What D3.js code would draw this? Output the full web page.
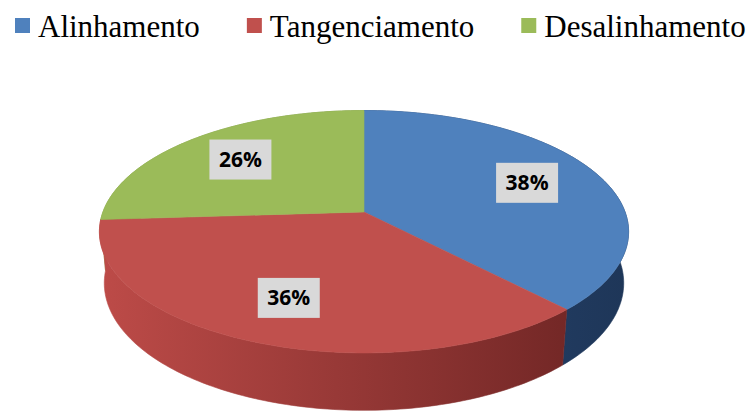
<!DOCTYPE html>
<html lang="pt">
<head>
  <meta charset="UTF-8">
  <title>Alinhamento / Tangenciamento / Desalinhamento</title>
  <script src="https://d3js.org/d3.v7.min.js"></script>
  <style>
    body { margin: 0; background: #fff; }
    svg { display: block; }
    .legend text { font-family: "Liberation Serif", "Times New Roman", serif; font-size: 31px; fill: #000; }
    .label text { font-family: "Open Sans", sans-serif; font-weight: bold; font-size: 21px; fill: #000; }
  </style>
</head>
<body>
<svg id="chart" width="751" height="412"></svg>

<script>
const categories = ["Alinhamento", "Tangenciamento", "Desalinhamento"];
const values = [38, 36, 26];
const labels = ["38%", "36%", "26%"];

const colorMap = {
  "Alinhamento":    { top: "#4f81bd", wall: ["#31558a", "#1e3658"] },
  "Tangenciamento": { top: "#c0504d", wall: ["#bd4b48", "#6a2322"] },
  "Desalinhamento": { top: "#9bbb59", wall: ["#86a34a", "#6b8638"] }
};

const svg = d3.select("#chart");
const width = +svg.attr("width"), height = +svg.attr("height");

// 3D view of the pie: centre of the disc on screen, tilt and perspective
const cx = 364, cy = 212;
const sinT = 0.452, cosT = Math.sqrt(1 - sinT * sinT);
const dist = 5.485, focal = 1432, thick = 0.222;

function project(a, r, yUp) {
  const X = r * Math.sin(a), Z = -r * Math.cos(a);
  const depth = dist - yUp * sinT - Z * cosT;
  return [cx + focal * X / depth, cy + focal * (Z * sinT - yUp * cosT) / depth];
}

function sample(a0, a1) {
  const n = Math.max(8, Math.ceil((a1 - a0) / 0.02));
  return d3.range(n + 1).map(i => a0 + (a1 - a0) * i / n);
}

const pie = d3.pie().sort(null).value(d => d.value);
const slices = pie(categories.map((c, i) => ({ name: c, value: values[i], label: labels[i] })));

const line = d3.line().curve(d3.curveLinearClosed);

// gradients for the side walls
const defs = svg.append("defs");
slices.forEach((s, i) => {
  const g = defs.append("linearGradient")
    .attr("id", "wall" + i)
    .attr("gradientUnits", "userSpaceOnUse")
    .attr("x1", cx - 265).attr("y1", 0)
    .attr("x2", cx + 265).attr("y2", 0);
  g.append("stop").attr("offset", "0%").attr("stop-color", colorMap[s.data.name].wall[0]);
  g.append("stop").attr("offset", "100%").attr("stop-color", colorMap[s.data.name].wall[1]);
});

// walls, back first
const wallOrder = slices.map((s, i) => ({ s, i }))
  .sort((a, b) => -Math.cos((a.s.startAngle + a.s.endAngle) / 2) + Math.cos((b.s.startAngle + b.s.endAngle) / 2));

const pieG = svg.append("g");
wallOrder.forEach(({ s, i }) => {
  const angles = sample(s.startAngle, s.endAngle);
  const top = angles.map(a => project(a, 1, 0));
  const bottom = angles.slice().reverse().map(a => project(a, 1, -thick));
  pieG.append("path")
    .attr("d", line(top.concat(bottom)))
    .attr("fill", `url(#wall${i})`)
    .attr("stroke", `url(#wall${i})`)
    .attr("stroke-width", 0.6);
});

// top faces
slices.forEach(s => {
  const pts = [project(0, 0, 0)].concat(sample(s.startAngle, s.endAngle).map(a => project(a, 1, 0)));
  pieG.append("path")
    .attr("d", line(pts))
    .attr("fill", colorMap[s.data.name].top)
    .attr("stroke", colorMap[s.data.name].top)
    .attr("stroke-width", 0.6);
});

// data labels
const labelG = svg.append("g").attr("class", "label");
slices.forEach(s => {
  const mid = (s.startAngle + s.endAngle) / 2;
  const [lx, ly] = project(mid, 0.7, 0);
  const g = labelG.append("g").attr("transform", `translate(${lx},${ly})`);
  g.append("rect")
    .attr("x", -31).attr("y", -20)
    .attr("width", 62).attr("height", 40)
    .attr("fill", "#d9d9d9");
  g.append("text")
    .attr("text-anchor", "middle")
    .attr("dy", "0.36em")
    .text(s.data.label);
});

// legend
const legend = svg.append("g").attr("class", "legend");
const items = legend.selectAll("g").data(categories).enter().append("g");
items.append("rect")
  .attr("y", 18).attr("width", 15).attr("height", 15)
  .attr("fill", d => colorMap[d].top);
items.append("text")
  .attr("x", 23).attr("y", 37)
  .text(d => d);

const gap = 47;
let xPos = 0;
items.each(function () {
  const w = 23 + this.querySelector("text").getComputedTextLength();
  d3.select(this).attr("transform", `translate(${xPos},0)`);
  xPos += w + gap;
});
const legendWidth = xPos - gap;
legend.attr("transform", `translate(${Math.round(380 - legendWidth / 2)},0)`);
</script>
</body>
</html>
